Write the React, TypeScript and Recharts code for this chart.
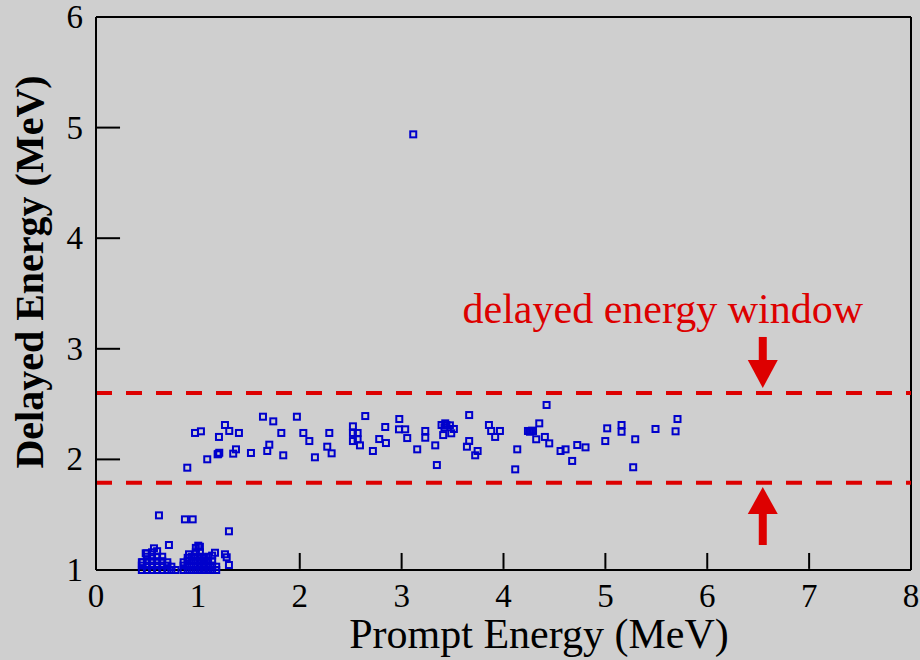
import React from 'react';
import { ScatterChart, Scatter, XAxis, YAxis, ReferenceLine, ReferenceDot } from 'recharts';

// Prompt / delayed energy pairs (MeV)
const bandX = [0.896, 0.972, 1.03, 1.092, 1.194, 1.2, 1.21, 1.207, 1.266, 1.308, 1.403, 1.347, 1.374, 1.521, 1.639, 1.74, 1.681, 1.701, 1.819, 1.838, 1.972, 2.035, 2.094, 2.149, 2.29, 2.27, 2.313, 2.643, 2.522, 2.522, 2.568, 2.522, 2.568, 2.591, 2.718, 2.78, 2.846, 2.839, 2.977, 2.974, 3.035, 3.055, 3.153, 3.232, 3.232, 3.33, 3.346, 3.392, 3.428, 3.44, 3.42, 3.474, 3.513, 3.408, 3.487, 3.663, 3.663, 3.641, 3.746, 3.722, 3.857, 3.879, 3.918, 3.965, 4.423, 4.351, 4.24, 4.26, 4.28, 4.29, 4.321, 4.406, 4.449, 4.135, 4.115, 4.56, 4.609, 4.674, 4.724, 4.805, 5.018, 4.999, 5.159, 5.159, 5.293, 5.273, 5.492, 5.708, 5.689];
const bandY = [1.925, 2.239, 2.254, 2.001, 2.046, 2.05, 2.06, 2.203, 2.311, 2.257, 2.239, 2.052, 2.091, 2.058, 2.386, 2.344, 2.076, 2.133, 2.239, 2.037, 2.386, 2.239, 2.166, 2.019, 2.239, 2.115, 2.055, 2.392, 2.299, 2.239, 2.239, 2.166, 2.182, 2.127, 2.076, 2.184, 2.148, 2.293, 2.365, 2.272, 2.272, 2.193, 2.091, 2.257, 2.196, 2.127, 1.949, 2.311, 2.326, 2.31, 2.29, 2.308, 2.275, 2.22, 2.236, 2.401, 2.166, 2.115, 2.076, 2.037, 2.311, 2.257, 2.203, 2.257, 2.492, 2.326, 2.257, 2.25, 2.26, 2.257, 2.182, 2.203, 2.145, 2.091, 1.91, 2.076, 2.091, 1.986, 2.13, 2.109, 2.281, 2.166, 2.311, 2.25, 2.182, 1.929, 2.275, 2.365, 2.254];

const lowX = [0.618, 0.873, 0.949, 1.305, 0.716, 0.569, 0.488, 0.458, 1.004, 0.913, 1.168, 1.266, 1.283, 1.305,
  0.45, 0.45, 0.45, 0.5, 0.5, 0.5, 0.5, 0.5, 0.55, 0.55, 0.55, 0.55, 0.55, 0.6, 0.6, 0.6, 0.6, 0.6, 0.65, 0.65, 0.65, 0.65, 0.7, 0.7, 0.7, 0.74, 0.74, 0.78,
  0.86, 0.86, 0.86, 0.9, 0.9, 0.9, 0.9, 0.94, 0.94, 0.94, 0.94, 0.98, 0.98, 0.98, 0.98, 0.98, 0.98, 1.02, 1.02, 1.02, 1.02, 1.02, 1.02, 1.06, 1.06, 1.06, 1.06, 1.1, 1.1, 1.1, 1.1, 1.14, 1.14, 1.14, 1.14, 1.18, 1.18];
const lowY = [1.494, 1.458, 1.458, 1.35, 1.226, 1.196, 1.151, 1.07, 1.22, 1.142, 1.156, 1.142, 1.115, 1.045,
  1.0, 1.04, 1.07, 1.0, 1.04, 1.08, 1.12, 1.15, 1.0, 1.04, 1.08, 1.12, 1.16, 1.0, 1.04, 1.08, 1.12, 1.17, 1.0, 1.04, 1.08, 1.12, 1.0, 1.04, 1.07, 1.0, 1.03, 1.0,
  1.0, 1.04, 1.07, 1.0, 1.04, 1.08, 1.11, 1.0, 1.04, 1.08, 1.12, 1.0, 1.04, 1.08, 1.12, 1.16, 1.2, 1.0, 1.04, 1.08, 1.12, 1.16, 1.21, 1.0, 1.04, 1.08, 1.11, 1.0, 1.04, 1.08, 1.12, 1.0, 1.04, 1.08, 1.13, 1.0, 1.03];

const outlierX = [3.114];
const outlierY = [4.939];

const xTicks = [0, 1, 2, 3, 4, 5, 6, 7, 8];
const yTicks = [1, 2, 3, 4, 5, 6];
const xMin = 0, xMax = 8, yMin = 1, yMax = 6;
// inward tick mark spans, in data units
const xTickLo = yMin + 0.01, xTickHi = yMin + 0.154;
const yTickLo = xMin + 0.01, yTickHi = xMin + 0.236;

const windowUpper = 2.6;
const windowLower = 1.79;
const arrowX = 6.545;
const downArrow = { from: 3.107, tip: 2.646 };
const upArrow = { from: 1.226, tip: 1.75 };

const xTitle = 'Prompt Energy (MeV)';
const yTitle = 'Delayed Energy (MeV)';
const windowLabel = 'delayed energy window';

const zip = (xs: number[], ys: number[]) => xs.map((x, i) => ({ x, y: ys[i] }));
const points = [...zip(lowX, lowY), ...zip(bandX, bandY), ...zip(outlierX, outlierY)];

const BLUE = '#0000cc';
const RED = '#dd0000';
const FONT = '"Liberation Serif", "Times New Roman", serif';

const Square = (props: any) => {
  const { cx, cy } = props;
  if (cx == null || cy == null) return null;
  return <rect x={cx - 3} y={cy - 3} width={6} height={6} fill="none" stroke={BLUE} strokeWidth={2} />;
};

const HeadDown = (props: any) => {
  const { cx, cy } = props;
  return <path d={`M${cx - 15},${cy - 28} L${cx + 15},${cy - 28} L${cx},${cy} Z`} fill={RED} />;
};
const HeadUp = (props: any) => {
  const { cx, cy } = props;
  return <path d={`M${cx - 15},${cy + 27} L${cx + 15},${cy + 27} L${cx},${cy} Z`} fill={RED} />;
};

const XTick = (props: any) => {
  const { x, y, payload } = props;
  return (
    <text x={x} y={y + 37} textAnchor="middle" fontFamily={FONT} fontSize={33} fill="#000">{payload.value}</text>
  );
};

const YTick = (props: any) => {
  const { x, y, payload } = props;
  return (
    <text x={x - 13} y={y + 11} textAnchor="end" fontFamily={FONT} fontSize={33} fill="#000">{payload.value}</text>
  );
};

const TK = { stroke: '#000', strokeWidth: 2 };

export default function App() {
  return (
    <div style={{ position: 'absolute', left: 0, top: 0, width: 920, height: 660, background: '#cfcfcf' }}>
      <ScatterChart width={920} height={660} margin={{ top: 17, right: 9, bottom: 0, left: 0 }}>
        <XAxis
          type="number"
          dataKey="x"
          domain={[xMin, xMax]}
          ticks={xTicks}
          interval={0}
          allowDecimals={false}
          axisLine={{ stroke: '#000', strokeWidth: 2 }}
          tickLine={false}
          tickSize={0}
          tickMargin={0}
          height={90}
          tick={XTick}
        />
        <YAxis
          type="number"
          dataKey="y"
          domain={[yMin, yMax]}
          ticks={yTicks}
          interval={0}
          axisLine={{ stroke: '#000', strokeWidth: 2 }}
          tickLine={false}
          tickSize={0}
          tickMargin={0}
          width={96}
          tick={YTick}
        />
        <ReferenceLine y={yMax} stroke="#000" strokeWidth={2} ifOverflow="visible" />
        <ReferenceLine x={xMax} stroke="#000" strokeWidth={2} ifOverflow="visible" />
        <ReferenceLine segment={[{ x: xTicks[1], y: xTickLo }, { x: xTicks[1], y: xTickHi }]} {...TK} />
        <ReferenceLine segment={[{ x: xTicks[2], y: xTickLo }, { x: xTicks[2], y: xTickHi }]} {...TK} />
        <ReferenceLine segment={[{ x: xTicks[3], y: xTickLo }, { x: xTicks[3], y: xTickHi }]} {...TK} />
        <ReferenceLine segment={[{ x: xTicks[4], y: xTickLo }, { x: xTicks[4], y: xTickHi }]} {...TK} />
        <ReferenceLine segment={[{ x: xTicks[5], y: xTickLo }, { x: xTicks[5], y: xTickHi }]} {...TK} />
        <ReferenceLine segment={[{ x: xTicks[6], y: xTickLo }, { x: xTicks[6], y: xTickHi }]} {...TK} />
        <ReferenceLine segment={[{ x: xTicks[7], y: xTickLo }, { x: xTicks[7], y: xTickHi }]} {...TK} />
        <ReferenceLine segment={[{ x: yTickLo, y: yTicks[1] }, { x: yTickHi, y: yTicks[1] }]} {...TK} />
        <ReferenceLine segment={[{ x: yTickLo, y: yTicks[2] }, { x: yTickHi, y: yTicks[2] }]} {...TK} />
        <ReferenceLine segment={[{ x: yTickLo, y: yTicks[3] }, { x: yTickHi, y: yTicks[3] }]} {...TK} />
        <ReferenceLine segment={[{ x: yTickLo, y: yTicks[4] }, { x: yTickHi, y: yTicks[4] }]} {...TK} />
        <ReferenceLine y={windowUpper} stroke={RED} strokeWidth={4} strokeDasharray="16 14" />
        <ReferenceLine y={windowLower} stroke={RED} strokeWidth={4} strokeDasharray="16 14" />
        <ReferenceLine segment={[{ x: arrowX, y: downArrow.from }, { x: arrowX, y: downArrow.tip + 0.2 }]} stroke={RED} strokeWidth={8} />
        <ReferenceDot x={arrowX} y={downArrow.tip} shape={HeadDown} />
        <ReferenceLine segment={[{ x: arrowX, y: upArrow.from }, { x: arrowX, y: upArrow.tip - 0.2 }]} stroke={RED} strokeWidth={8} />
        <ReferenceDot x={arrowX} y={upArrow.tip} shape={HeadUp} />
        <Scatter data={points} shape={Square} isAnimationActive={false} />
      </ScatterChart>
      <svg width={920} height={660} style={{ position: 'absolute', left: 0, top: 0, pointerEvents: 'none' }}>
        <text x={539} y={648} textAnchor="middle" fontFamily={FONT} fontSize={42} fill="#000">{xTitle}</text>
        <text x={43} y={272} transform="rotate(-90, 43, 272)" textAnchor="middle" fontFamily={FONT} fontSize={40} fontWeight="bold" fill="#000">{yTitle}</text>
        <text x={863} y={323} textAnchor="end" fontFamily={FONT} fontSize={42} fill={RED}>{windowLabel}</text>
      </svg>
    </div>
  );
}
